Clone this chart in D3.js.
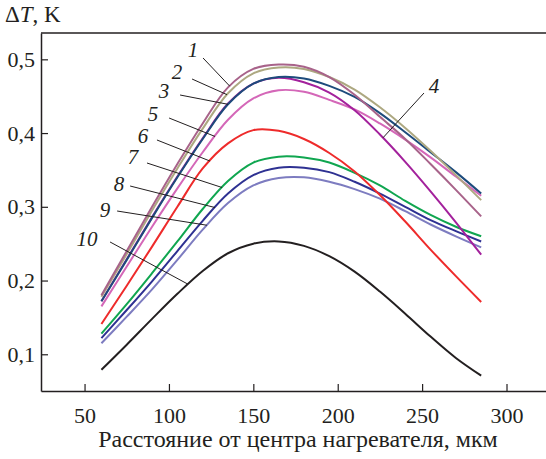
<!DOCTYPE html>
<html><head><meta charset="utf-8">
<script src="https://cdn.jsdelivr.net/npm/d3@7/dist/d3.min.js"></script>
<style>body{margin:0;background:#fff}svg{display:block}text{font-family:"Liberation Serif","Times New Roman",serif}</style>
</head><body>
<script>
// ---- data ----
const xValues = [60, 75, 90, 105, 120, 135, 150, 165, 180, 195, 210, 225, 240, 255, 270, 285];
const curve1  = [0.180,0.240,0.300,0.358,0.413,0.462,0.487,0.493,0.490,0.476,0.452,0.422,0.392,0.358,0.323,0.287];
const curve2  = [0.178,0.236,0.295,0.352,0.406,0.454,0.481,0.489,0.487,0.476,0.459,0.435,0.407,0.376,0.343,0.309];
const curve3  = [0.172,0.228,0.285,0.340,0.392,0.439,0.467,0.476,0.474,0.464,0.449,0.427,0.401,0.374,0.347,0.318];
const curve4  = [0.172,0.229,0.286,0.341,0.393,0.440,0.467,0.475,0.469,0.455,0.431,0.398,0.361,0.321,0.279,0.235];
const curve5  = [0.165,0.219,0.273,0.325,0.374,0.418,0.447,0.458,0.456,0.445,0.432,0.413,0.391,0.367,0.341,0.315];
const curve6  = [0.141,0.193,0.246,0.300,0.352,0.386,0.404,0.403,0.392,0.373,0.348,0.316,0.280,0.242,0.206,0.171];
const curve7  = [0.128,0.168,0.210,0.253,0.297,0.335,0.360,0.368,0.367,0.360,0.346,0.329,0.308,0.289,0.273,0.260];
const curve8  = [0.122,0.160,0.199,0.240,0.281,0.318,0.343,0.353,0.353,0.347,0.334,0.318,0.300,0.282,0.267,0.253];
const curve9  = [0.115,0.151,0.188,0.228,0.269,0.305,0.329,0.339,0.340,0.334,0.324,0.311,0.294,0.276,0.260,0.245];
const curve10 = [0.079,0.113,0.148,0.182,0.213,0.237,0.250,0.253,0.247,0.233,0.212,0.185,0.155,0.124,0.095,0.071];

const seriesNames  = ["1","2","3","4","5","6","7","8","9","10"];
const seriesValues = [curve1,curve2,curve3,curve4,curve5,curve6,curve7,curve8,curve9,curve10];
const seriesColors = ["#A8638A","#ADA881","#1D4B7C","#A3219C","#D467B8","#EE2B2B","#10A650","#2E3192","#7D7CC0","#231F20"];
const drawOrder    = [9,8,7,6,5,4,3,2,1,0];

const xTicks = [50,100,150,200,250,300];
const yTicks = [0.1,0.2,0.3,0.4,0.5];

// annotation placement (data units)
const labelTextX    = [114.3,104.8, 97.1,257.0, 90.6, 84.7, 78.7, 70.4, 62.1, 51.5];
const labelTextY    = [0.5126,0.4828,0.4570,0.4638,0.4258,0.3960,0.3675,0.3309,0.2957,0.2564];
const leaderStartX  = [120.2,113.7,106.6,251.1,100.1, 92.9, 87.0, 77.0, 69.3, 65.1];
const leaderStartY  = [0.5018,0.4733,0.4516,0.4543,0.4204,0.3906,0.3594,0.3282,0.2943,0.2523];
const leaderEndX    = [136,134.4,135,226.8,127.3,124.4,131.5,127.3,122.5,111.3];

const xTitle = "Расстояние от центра нагревателя, мкм";

// ---- chart ----
const W = 546, H = 459;
const svg = d3.select("body").append("svg").attr("width", W).attr("height", H);
const x = d3.scaleLinear().domain([24.2, 323.4]).range([41, 546]);
const y = d3.scaleLinear().domain([0.0502, 0.5357]).range([391, 33]);
const font = "'Liberation Serif','Times New Roman',serif";
const axisColor = "#231F20";

// frame top
svg.append("line").attr("stroke", axisColor).attr("stroke-width", 1.5)
  .attr("x1", x.range()[0]).attr("x2", x.range()[1]).attr("y1", y.range()[1]).attr("y2", y.range()[1]);

const xAxis = svg.append("g").attr("transform", `translate(0,${y.range()[0]})`)
  .call(d3.axisBottom(x).tickValues(xTicks).tickSizeInner(-7).tickSizeOuter(0).tickPadding(16));
const yAxis = svg.append("g").attr("transform", `translate(${x.range()[0]},0)`)
  .call(d3.axisLeft(y).tickValues(yTicks).tickSizeInner(-7).tickSizeOuter(0).tickPadding(6)
        .tickFormat(d => d3.format(".1f")(d).replace(".", ",")));
[xAxis, yAxis].forEach(g => {
  g.attr("font-family", font).attr("font-size", 22);
  g.select(".domain").attr("stroke", axisColor).attr("stroke-width", 1.5);
  g.selectAll(".tick line").attr("stroke", axisColor).attr("stroke-width", 1.2);
  g.selectAll(".tick text").style("font-family", font).style("font-size", "22px").attr("fill", axisColor);
});

// curves
const line = d3.line().x(d => x(d[0])).y(d => y(d[1])).curve(d3.curveCatmullRom.alpha(0.5));
drawOrder.forEach(i => {
  svg.append("path")
    .datum(xValues.map((xv, j) => [xv, seriesValues[i][j]]))
    .attr("fill", "none").attr("stroke", seriesColors[i]).attr("stroke-width", 2)
    .attr("stroke-linejoin","round").attr("d", line);
});

// labels
function valueAt(vals, xv) {
  const i = Math.max(0, Math.min(xValues.length - 2, d3.bisectRight(xValues, xv) - 1));
  const t = (xv - xValues[i]) / (xValues[i+1] - xValues[i]);
  return vals[i] + t * (vals[i+1] - vals[i]);
}
seriesNames.forEach((name, i) => {
  svg.append("line")
    .attr("x1", x(leaderStartX[i])).attr("y1", y(leaderStartY[i]))
    .attr("x2", x(leaderEndX[i])).attr("y2", y(valueAt(seriesValues[i], leaderEndX[i])))
    .attr("stroke", axisColor).attr("stroke-width", 1);
  svg.append("text")
    .attr("x", x(labelTextX[i])).attr("y", y(labelTextY[i]))
    .attr("text-anchor", "middle").attr("dominant-baseline", "central")
    .style("font-family", font).style("font-style", "italic").style("font-size", "21px")
    .attr("fill", axisColor).text(name);
});

// titles
const yt = svg.append("text").attr("x", 5).attr("y", 22)
  .style("font-family", font).style("font-size", "23px").attr("fill", axisColor);
yt.append("tspan").text("Δ");
yt.append("tspan").style("font-style", "italic").text("T");
yt.append("tspan").text(", K");

svg.append("text").attr("x", 298).attr("y", 447).attr("text-anchor", "middle")
  .style("font-family", font).style("font-size", "24px").attr("fill", axisColor).text(xTitle);
</script>
</body></html>
